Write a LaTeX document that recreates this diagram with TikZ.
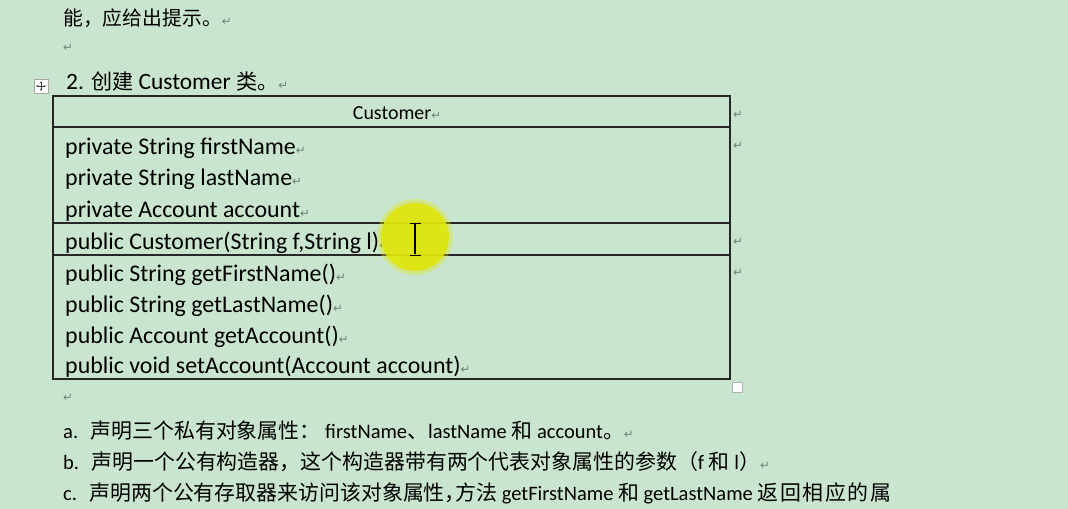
\documentclass[tikz,border=0pt]{standalone}
\usepackage{fontspec}
\setmainfont{Carlito}
\newfontfamily\cjk[Scale=0.9]{Noto Sans CJK SC}
\newfontfamily\cjkb[Scale=1.02]{Noto Sans CJK SC}
\newfontfamily\cjkw[Scale=1.02, LetterSpace=8]{Noto Sans CJK SC}
\newfontfamily\symfont{DejaVu Sans}
\usetikzlibrary{
    positioning,
    arrows.meta
}
\definecolor{bggreen}{RGB}{202,229,207}
\definecolor{markgray}{RGB}{110,132,117}
\definecolor{cursoryellow}{RGB}{224,230,10}
\newcommand{\pmark}{{\symfont\fontsize{10}{10}\selectfont\color{markgray}↵}}
\newcommand{\halfcomma}{\makebox[0.5em][l]{，}}

\begin{document}
\begin{tikzpicture}[x=0.03cm, y=-0.03cm,
    txt/.style={anchor=base west, inner sep=0pt, font=\fontsize{20.4}{24}\selectfont},
    headtxt/.style={anchor=base, inner sep=0pt, font=\fontsize{17}{20}\selectfont},
    titletxt/.style={anchor=base west, inner sep=0pt, font=\fontsize{20}{24}\selectfont},
    bodytxt/.style={anchor=base west, inner sep=0pt, font=\fontsize{17.5}{21}\selectfont},
    rule/.style={line width=1.1pt, black!85},
    pmnode/.style={inner sep=0pt}]
      \fill[bggreen] (0,0) rectangle (1068,509);
      \useasboundingbox (0,0) rectangle (1068,509);

      % text above the table
      \node[bodytxt, font=\fontsize{16.6}{20}\selectfont] (top) at (63, 26) {\cjkb 能，应给出提示。\pmark};
      \node[pmnode] (blank1) at (68, 48) {\pmark};
      \node[titletxt] (title) at (66, 90) {2. \cjk 创建\normalfont{} Customer \cjk 类。\pmark};

      % table move handle
      \draw[gray!70, fill=white] (34, 79) rectangle (48, 93);
      \draw[{Stealth[length=2pt]}-{Stealth[length=2pt]}, black!80] (36, 86) -- (46, 86);
      \draw[{Stealth[length=2pt]}-{Stealth[length=2pt]}, black!80] (41, 81) -- (41, 91);

      % the class table
      \draw[rule] (53, 96) rectangle (730, 379);
      \draw[rule] (53, 127) -- (730, 127);
      \draw[rule] (53, 223) -- (730, 223);
      \draw[rule] (53, 255) -- (730, 255);

      \node[headtxt] (header) at (397, 120) {Customer\pmark};
      \node[txt] (attr1) at (65, 155) {private String firstName\pmark};
      \node[txt] (attr2) at (65, 186) {private String lastName\pmark};
      \node[txt] (attr3) at (65, 217) {private Account account\pmark};
      \node[txt] (ctor) at (65, 249) {public Customer(String f,String l)\pmark};
      \node[txt] (meth1) at (65, 281) {public String getFirstName()\pmark};
      \node[txt] (meth2) at (65, 312) {public String getLastName()\pmark};
      \node[txt] (meth3) at (65, 343) {public Account getAccount()\pmark};
      \node[txt] (meth4) at (65, 373) {public void setAccount(Account account)\pmark};

      % end of row marks
      \node[pmnode] (row1) at (738, 115) {\pmark};
      \node[pmnode] (row2) at (738, 146) {\pmark};
      \node[pmnode] (row3) at (738, 242) {\pmark};
      \node[pmnode] (row4) at (738, 273) {\pmark};
      \draw[gray!60, fill=white] (732, 382) rectangle (742, 392);

      % mouse cursor
      \fill[cursoryellow, opacity=0.35] (415, 237) circle (38);
      \fill[cursoryellow, opacity=0.9] (415, 237) circle (34);
      \draw[white, line width=2.2pt] (415, 224) -- (415, 254);
      \draw[black, line width=0.9pt] (415, 224) -- (415, 254);
      \draw[black, line width=0.8pt] (410, 223) -- (421, 223);
      \draw[black, line width=0.8pt] (410, 255) -- (421, 255);

      % text below the table
      \node[pmnode] (blank2) at (68, 398) {\pmark};
      \node[bodytxt] (itema) at (63, 438) {a.\hspace{0.6em}\cjkb 声明三个私有对象属性：\normalfont{} firstName\cjkb 、\normalfont lastName \cjkb 和\normalfont{} account\cjkb 。\normalfont\pmark};
      \node[bodytxt] (itemb) at (63, 469) {b.\hspace{0.6em}\cjkb 声明一个公有构造器，这个构造器带有两个代表对象属性的参数（\normalfont f \cjkb 和\normalfont{} l\cjkb ）\normalfont\pmark};
      \node[bodytxt] (itemc) at (63, 500) {c.\hspace{0.6em}\cjkb 声明两个公有存取器来访问该对象属性\halfcomma 方法\normalfont{} getFirstName \cjkw 和\normalfont{} getLastName \cjkw 返回相应的属};
    \end{tikzpicture}
\end{document}
